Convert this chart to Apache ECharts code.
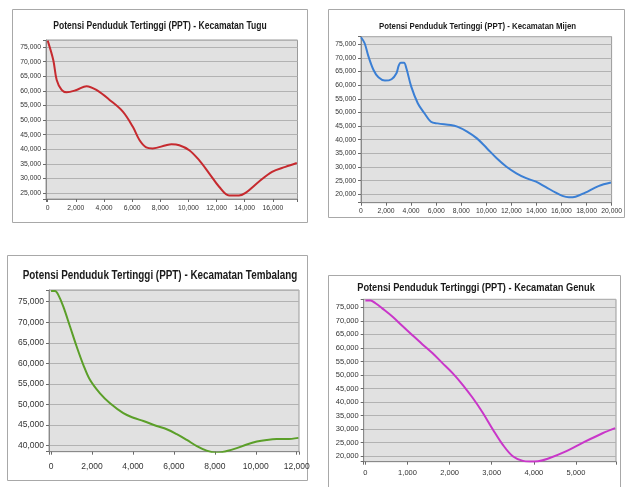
<!DOCTYPE html>
<html><head><meta charset="utf-8">
<script src="https://cdn.jsdelivr.net/npm/echarts@6/dist/echarts.min.js"></script>
<style>html,body{margin:0;padding:0;background:#fff}#c{width:625px;height:487px}</style>
</head><body><div id="c"></div>
<script>
// ---- data ----
const titles = [
  'Potensi Penduduk Tertinggi (PPT) - Kecamatan Tugu',
  'Potensi Penduduk Tertinggi (PPT) - Kecamatan Mijen',
  'Potensi Penduduk Tertinggi (PPT) - Kecamatan Tembalang',
  'Potensi Penduduk Tertinggi (PPT) - Kecamatan Genuk'
];
const tuguX = [0, 400, 640, 990, 1340, 2050, 2760, 3460, 4400, 5340, 6050, 6520, 7000, 7460, 8410, 8800, 9350, 10060, 10760, 11470, 12180, 12890, 13590, 14060, 15000, 15940, 16890, 17700];
const tuguY = [77200, 70500, 63700, 60300, 59500, 60300, 61600, 60300, 56900, 52900, 47700, 43200, 40650, 40300, 41400, 41700, 41400, 39700, 36300, 31800, 27200, 24200, 24200, 25100, 28900, 32300, 34000, 35300];
const mijenX = [0, 290, 600, 1000, 1390, 1910, 2440, 2830, 3010, 3170, 3430, 3620, 4010, 4530, 5060, 5580, 6110, 7160, 7680, 8470, 9250, 10040, 10830, 11610, 12400, 13180, 13970, 14760, 15540, 16070, 16590, 17120, 17900, 18950, 19950];
const mijenY = [77600, 75400, 70500, 65600, 62900, 61700, 62200, 64400, 67200, 68200, 68200, 66200, 59500, 53400, 49700, 46600, 46000, 45400, 44800, 43000, 40500, 36900, 33200, 30100, 27700, 25900, 24600, 22600, 20600, 19400, 18900, 19100, 20600, 23000, 24300];
const tembalangX = [0, 195, 360, 600, 930, 1250, 1580, 1900, 2390, 2880, 3530, 4020, 4510, 5160, 5650, 6140, 6630, 7120, 7600, 8090, 8580, 9070, 9560, 10050, 10530, 11020, 11510, 12080];
const tembalangY = [77600, 77600, 76600, 73800, 68900, 64100, 59600, 56000, 52700, 50300, 47900, 46800, 46000, 44800, 44000, 42800, 41400, 39900, 38800, 38300, 38700, 39400, 40300, 41000, 41400, 41600, 41600, 41900];
const genukX = [0, 120, 240, 400, 640, 880, 1110, 1350, 1590, 1830, 2070, 2310, 2550, 2790, 3030, 3260, 3500, 3740, 3900, 4100, 4330, 4760, 5200, 5630, 5930];
const genukY = [77500, 77500, 76500, 74600, 71600, 68100, 64800, 61400, 58100, 54400, 50700, 46400, 41500, 36000, 29800, 24300, 20000, 18300, 18100, 18200, 19100, 21800, 25300, 28500, 30400];
const xSteps = [2000, 2000, 2000, 1000];
const ySteps = [5000, 5000, 5000, 5000];

// ---- layout / style ----
const FONT = '"Liberation Sans", Arial, sans-serif';
const frames = [
  {x: 12, y: 9, w: 295, h: 213},
  {x: 328, y: 9, w: 296, h: 208},
  {x: 7, y: 255, w: 300, h: 225},
  {x: 328, y: 275, w: 292, h: 220}
];
const grids = [
  {left: 46, top: 40, width: 251.5, height: 159},
  {left: 361, top: 36.7, width: 254.3, height: 166},
  {left: 49, top: 290, width: 250, height: 161.7},
  {left: 363.7, top: 299.3, width: 252.3, height: 162.4}
];
const xRanges = [[-120, 17750], [0, 20000], [-100, 12110], [-40, 5950]];
const yRanges = [[23000, 77400], [16900, 77800], [38540, 77840], [18000, 77950]];
const titlePos = [
  {x: 160, y: 26, fs: 10, sx: 0.855},
  {x: 477.5, y: 26, fs: 9.5, sx: 0.825},
  {x: 160, y: 276, fs: 12.5, sx: 0.79},
  {x: 476, y: 288, fs: 11, sx: 0.84}
];
const labelFs = [6.8, 6.8, 8.5, 7.5];
const xLabelMargin = [6, 5, 10, 7];
const colors = ['#c62a2f', '#3b7fd4', '#5b9f29', '#c936c9'];
const seriesX = [tuguX, mijenX, tembalangX, genukX];
const seriesY = [tuguY, mijenY, tembalangY, genukY];

function fmtNum(v) {
  return String(v).replace(/\B(?=(\d{3})+(?!\d))/g, ',');
}
function fmt(step) {
  return function (v) { return (Math.abs(v % step) < 1e-6) ? fmtNum(v) : ''; };
}

const option = {
  animation: false,
  backgroundColor: '#ffffff',
  grid: grids.map(g => Object.assign({show: true, backgroundColor: '#e1e1e1', borderColor: '#9a9a9a', borderWidth: 1}, g)),
  xAxis: grids.map((g, i) => ({
    type: 'value', gridIndex: i, min: xRanges[i][0], max: xRanges[i][1],
    minInterval: xSteps[i], maxInterval: xSteps[i], splitNumber: 10,
    axisLine: {show: true, onZero: false, lineStyle: {color: '#8a8a8a'}},
    axisTick: {show: true, length: 3, lineStyle: {color: '#6a6a6a'}},
    splitLine: {show: false},
    axisLabel: {fontSize: labelFs[i], color: '#333', margin: xLabelMargin[i], fontFamily: FONT, formatter: fmt(xSteps[i])}
  })),
  yAxis: grids.map((g, i) => ({
    type: 'value', gridIndex: i, min: yRanges[i][0], max: yRanges[i][1],
    minInterval: ySteps[i], maxInterval: ySteps[i], splitNumber: 12,
    axisLine: {show: true, onZero: false, lineStyle: {color: '#8a8a8a'}},
    axisTick: {show: true, length: 3, lineStyle: {color: '#6a6a6a'}},
    splitLine: {show: true, lineStyle: {color: '#b2b2b2', width: 1}},
    axisLabel: {fontSize: labelFs[i], color: '#333', margin: 5, fontFamily: FONT, formatter: fmt(ySteps[i])}
  })),
  series: seriesX.map((xs, i) => ({
    type: 'line', xAxisIndex: i, yAxisIndex: i, smooth: 0.35, showSymbol: false,
    lineStyle: {color: colors[i], width: 2},
    data: xs.map((x, k) => [x, seriesY[i][k]])
  })),
  graphic: frames.map(f => ({
    type: 'rect', z: -10, silent: true,
    shape: {x: f.x + 0.5, y: f.y + 0.5, width: f.w, height: f.h},
    style: {fill: '#ffffff', stroke: '#a8a8a8', lineWidth: 1}
  })).concat(titles.map((t, i) => ({
    type: 'text', z: 10, silent: true,
    x: titlePos[i].x, y: titlePos[i].y, scaleX: titlePos[i].sx,
    style: {text: t, fontSize: titlePos[i].fs, fontWeight: 'bold', fontFamily: FONT, fill: '#1a1a1a', align: 'center', verticalAlign: 'middle'}
  })))
};
const chart = echarts.init(document.getElementById('c'), null, {renderer: 'canvas'});
chart.setOption(option);
</script>
</body></html>
